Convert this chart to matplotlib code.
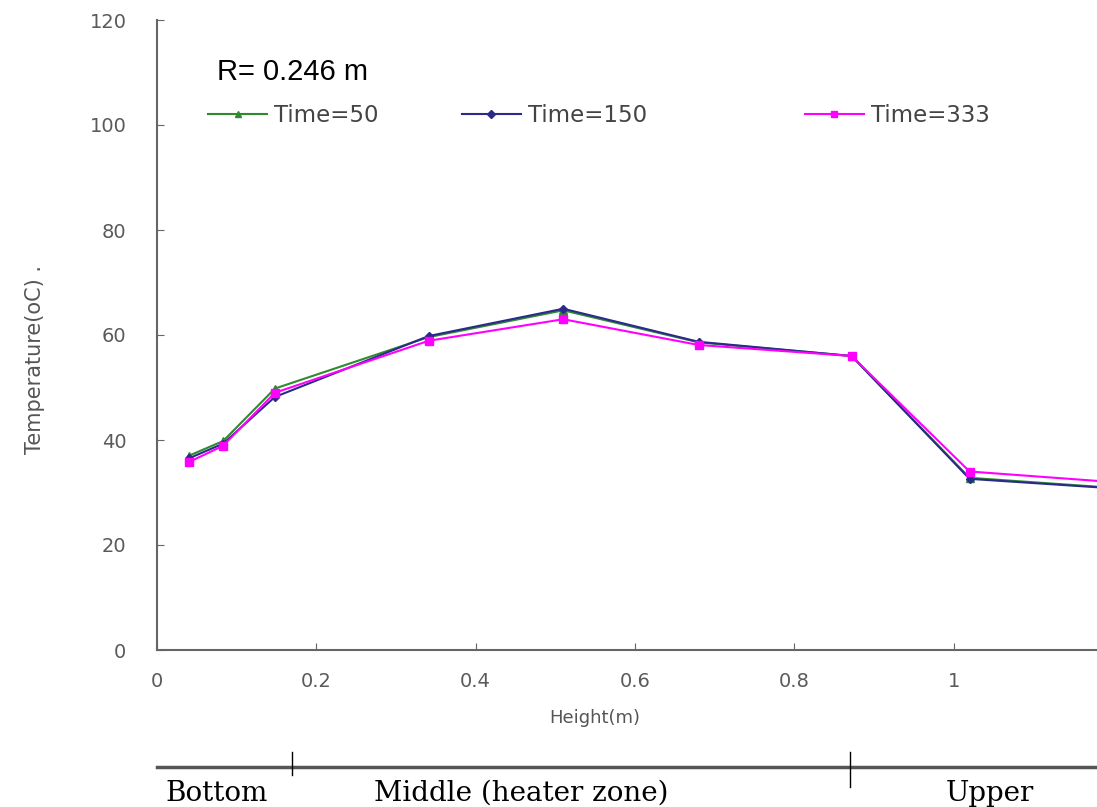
import matplotlib.pyplot as plt
from matplotlib.ticker import FormatStrFormatter

# measured heights (m) and temperatures (oC)
height = [0.04, 0.083, 0.148, 0.341, 0.51, 0.68, 0.872, 1.02, 1.19]
t50 = [37.0, 39.8, 49.8, 59.6, 64.7, 58.6, 56.0, 32.8, 31.0]
t150 = [36.5, 39.3, 48.2, 59.8, 65.0, 58.7, 56.0, 32.6, 30.9]
t333 = [35.8, 38.9, 49.0, 58.9, 63.0, 58.1, 56.0, 34.0, 32.1]

series_names = ['Time=50', 'Time=150', 'Time=333']
zones = ['Bottom', 'Middle (heater zone)', 'Upper']
zone_edges = [0.17, 0.87]
zone_label_x = [0.075, 0.457, 1.045]

W, H = 1097, 807
fig = plt.figure(figsize=(W / 100, H / 100), dpi=100)
fig.patch.set_facecolor('white')

x0, x1 = 157, 1097
y0, y1 = 650, 20
ax = fig.add_axes([x0 / W, 1 - y0 / H, (x1 - x0) / W, (y0 - y1) / H])

h1, = ax.plot(height, t50, color='#2e8b2e', lw=1.5, marker='^', ms=6, label=series_names[0])
h2, = ax.plot(height, t150, color='#2a2a8a', lw=1.5, marker='D', ms=4.5, label=series_names[1])
h3, = ax.plot(height, t333, color='#ff00ff', lw=1.5, marker='s', ms=6, label=series_names[2])

ax.set_xlim(0, 1.18)
ax.set_ylim(0, 120)
ax.set_xticks([0, 0.2, 0.4, 0.6, 0.8, 1.0])
ax.set_yticks(range(0, 121, 20))
ax.xaxis.set_major_formatter(FormatStrFormatter('%g'))
for s in ['top', 'right']:
    ax.spines[s].set_visible(False)
for s in ['left', 'bottom']:
    ax.spines[s].set_color('#666666')
    ax.spines[s].set_linewidth(1.5)
ax.tick_params(axis='both', direction='in', length=5, color='#666666',
               labelcolor='#5a5a5a', labelsize=14)
ax.tick_params(axis='y', pad=22)
ax.tick_params(axis='x', pad=16)

# legend entries, placed one by one
leg_x = [0.054, 0.324, 0.689]
for i, (h, lx) in enumerate(zip([h1, h2, h3], leg_x)):
    lg = ax.legend(handles=[h], loc='center left', bbox_to_anchor=(lx, 0.849),
                   frameon=False, fontsize=16.5, borderpad=0, borderaxespad=0,
                   handlelength=2.6, handletextpad=0.3, labelcolor='#444444',
                   markerscale=0.8)
    if i < 2:
        ax.add_artist(lg)

fig.text(217 / W, 1 - 72 / H, 'R= 0.246 m', fontsize=21, family='Liberation Sans',
         ha='left', va='center', color='black')
fig.text(595 / W, 1 - 718 / H, 'Height(m)', fontsize=13, ha='center', va='center',
         color='#555555')
fig.text(35 / W, 1 - 360 / H, 'Temperature(oC) .', fontsize=15, rotation=90,
         ha='center', va='center', color='#555555')

# zone bar under the chart
zax = fig.add_axes([x0 / W, 0, (x1 - x0) / W, 80 / H])
zax.set_xlim(0, 1.18)
zax.set_ylim(0, 1)
zax.axis('off')
zax.plot([0, 1.18], [0.5, 0.5], color='#555555', lw=2.5, clip_on=False)
zax.plot([zone_edges[0]] * 2, [0.4, 0.69], color='black', lw=1)
zax.plot([zone_edges[1]] * 2, [0.25, 0.69], color='black', lw=1)
for name, zx in zip(zones, zone_label_x):
    zax.text(zx, 0.17, name, family='DejaVu Serif', fontsize=20, ha='center',
             va='center', color='black', clip_on=False)

fig.savefig('out.png', dpi=100)
